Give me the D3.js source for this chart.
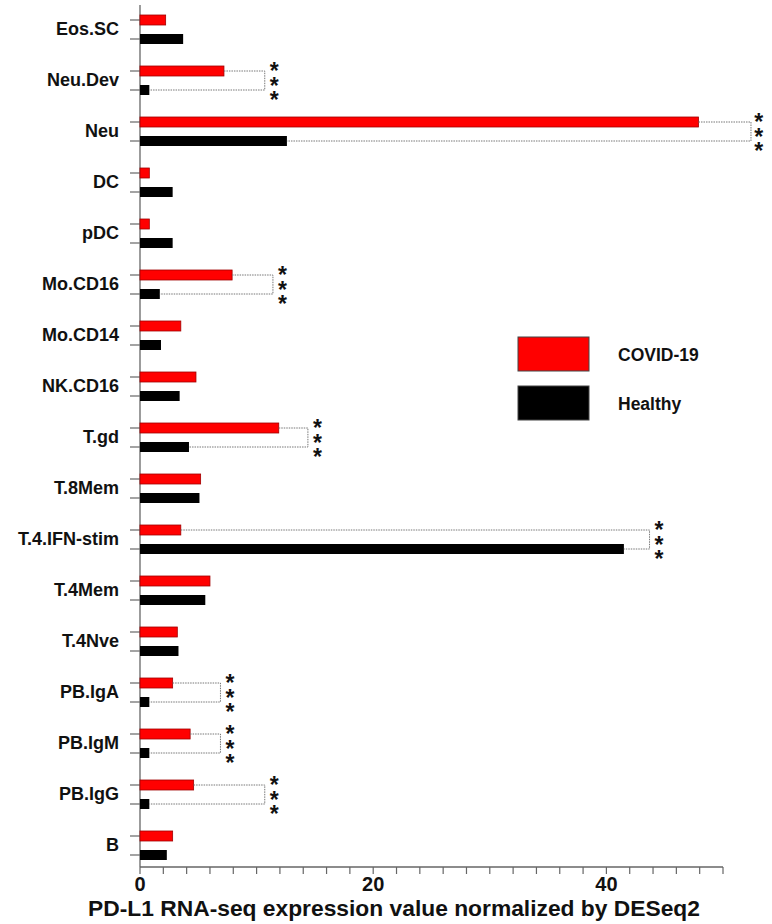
<!DOCTYPE html>
<html>
<head>
<meta charset="utf-8">
<script src="https://cdn.jsdelivr.net/npm/d3@7"></script>
<style>
  html, body { margin: 0; padding: 0; background: #fff; }
  svg { display: block; font-family: "Liberation Sans", Arial, sans-serif; }
  .stars { writing-mode: vertical-rl; text-orientation: upright; }
</style>
</head>
<body>
<svg id="chart" width="772" height="924"></svg>
<script>
// Cell types, top to bottom
const categories = ["Eos.SC", "Neu.Dev", "Neu", "DC", "pDC", "Mo.CD16", "Mo.CD14", "NK.CD16",
  "T.gd", "T.8Mem", "T.4.IFN-stim", "T.4Mem", "T.4Nve", "PB.IgA", "PB.IgM", "PB.IgG", "B"];

// PD-L1 expression (DESeq2 normalized)
const covidValues   = [2.2, 7.2, 47.9, 0.8, 0.8, 7.9, 3.5, 4.8, 11.9, 5.2, 3.5, 6.0, 3.2, 2.8, 4.3, 4.6, 2.8];
const healthyValues = [3.7, 0.8, 12.6, 2.8, 2.8, 1.7, 1.8, 3.4, 4.2, 5.1, 41.5, 5.6, 3.3, 0.8, 0.8, 0.8, 2.3];

// Significant comparisons (***) and the level of their bracket
const sigCategories = ["Neu.Dev", "Neu", "Mo.CD16", "T.gd", "T.4.IFN-stim", "PB.IgA", "PB.IgM", "PB.IgG"];
const sigBracketAt  = [10.7, 52.4, 11.4, 14.4, 43.7, 6.9, 6.9, 10.7];
const sigMark = "***";

const seriesNames = ["COVID-19", "Healthy"];
const xTicksMajor = [0, 20, 40];
const xDomainMax = 50;

const RED = "#ff0000", BLACK = "#000000";
const W = 772;

const svg = d3.select("#chart");
const x = d3.scaleLinear().domain([0, xDomainMax]).range([140, 723]);
const y = d3.scaleBand().domain(categories).range([4, 871]);
const off = 9.5, barH = 10;
const axisY = 867;

const rowC = c => y(c) + y.bandwidth() / 2;

// vertical axis
svg.append("line")
  .attr("x1", x(0)).attr("x2", x(0)).attr("y1", 5).attr("y2", axisY)
  .attr("stroke", "#666").attr("stroke-width", 1.3);

// y ticks, one per bar
categories.forEach(c => {
  [-off, off].forEach(o => {
    svg.append("line")
      .attr("x1", x(0) - 10).attr("x2", x(0))
      .attr("y1", rowC(c) + o).attr("y2", rowC(c) + o)
      .attr("stroke", "#666").attr("stroke-width", 1.2);
  });
});

// category labels
svg.append("g").selectAll("text").data(categories).join("text")
  .attr("x", 119).attr("y", d => rowC(d) + 5.5)
  .attr("text-anchor", "end")
  .attr("font-size", 18).attr("font-weight", "bold").attr("fill", "#111")
  .text(d => d);

// bars
const rows = categories.map((c, i) => ({ c, covid: covidValues[i], healthy: healthyValues[i] }));
svg.append("g").selectAll("rect").data(rows).join("rect")
  .attr("x", x(0)).attr("y", d => rowC(d.c) - off - barH / 2)
  .attr("width", d => x(d.covid) - x(0)).attr("height", barH)
  .attr("fill", RED).attr("stroke", "#a00000").attr("stroke-width", 0.8);
svg.append("g").selectAll("rect").data(rows).join("rect")
  .attr("x", x(0)).attr("y", d => rowC(d.c) + off - barH / 2)
  .attr("width", d => x(d.healthy) - x(0)).attr("height", barH)
  .attr("fill", BLACK);

// significance brackets, each with a vertical stack of asterisks
const starSize = 23;
const starCell = starSize * 1.117;          // vertical advance of one glyph
const starStep = 14;                        // wanted spacing between asterisks
const gSig = svg.append("g");
sigCategories.forEach((c, k) => {
  const i = categories.indexOf(c);
  const bx = x(sigBracketAt[k]);
  const yr = rowC(c) - off, yb = rowC(c) + off;
  const path = d3.path();
  path.moveTo(x(covidValues[i]), yr);
  path.lineTo(bx, yr);
  path.lineTo(bx, yb);
  path.lineTo(x(healthyValues[i]), yb);
  gSig.append("path").attr("d", path.toString())
    .attr("fill", "none").attr("stroke", "#777").attr("stroke-width", 1)
    .attr("stroke-dasharray", "1.5,1");
  const sx = Math.min(bx + 9.5, W - starCell / 2 - 0.5);
  gSig.append("text")
    .attr("class", "stars")
    .attr("x", sx).attr("y", rowC(c) - starStep - 0.44 * starSize + 2)
    .attr("font-size", starSize).attr("font-weight", "bold")
    .attr("letter-spacing", starStep - starCell)
    .attr("fill", "#111")
    .text(sigMark);
});

// x axis
const xAxis = svg.append("g");
xAxis.append("line")
  .attr("x1", x(0)).attr("x2", x(xDomainMax)).attr("y1", axisY).attr("y2", axisY)
  .attr("stroke", "#666").attr("stroke-width", 1.3);
xAxis.selectAll("line.tk").data(d3.range(0, xDomainMax + 1, 2)).join("line")
  .attr("class", "tk")
  .attr("x1", d => x(d)).attr("x2", d => x(d))
  .attr("y1", axisY).attr("y2", axisY + 7)
  .attr("stroke", "#666").attr("stroke-width", 1.2);
xAxis.selectAll("text").data(xTicksMajor).join("text")
  .attr("x", d => x(d)).attr("y", axisY + 24)
  .attr("text-anchor", "middle")
  .attr("font-size", 20).attr("font-weight", "bold").attr("fill", "#111")
  .text(d => d);

svg.append("text")
  .attr("x", 394).attr("y", 916)
  .attr("text-anchor", "middle")
  .attr("font-size", 22.8).attr("font-weight", "bold").attr("fill", "#111")
  .text("PD-L1 RNA-seq expression value normalized by DESeq2");

// legend
const legend = svg.append("g");
const legendColors = [RED, BLACK];
const legendY = [337, 386];
seriesNames.forEach((n, i) => {
  legend.append("rect")
    .attr("x", 518).attr("y", legendY[i]).attr("width", 71).attr("height", 34)
    .attr("fill", legendColors[i]).attr("stroke", "#444").attr("stroke-width", 1);
  legend.append("text")
    .attr("x", 618).attr("y", legendY[i] + 17 + 6.5)
    .attr("font-size", 17.5).attr("font-weight", "bold").attr("fill", "#111")
    .text(n);
});
</script>
</body>
</html>
